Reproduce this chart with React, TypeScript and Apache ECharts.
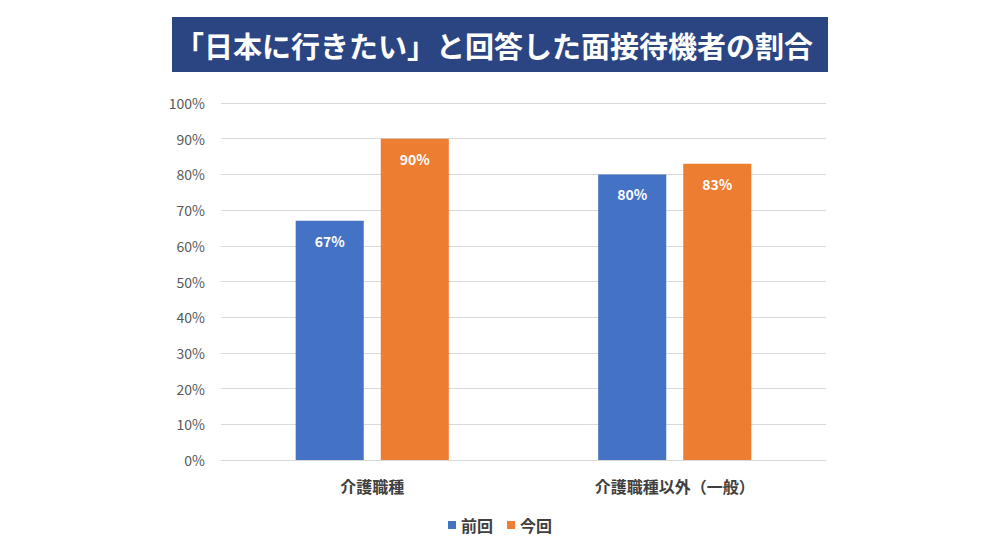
import React, { useEffect, useRef } from "react";
import * as echarts from "echarts";

const titleText = "「日本に行きたい」と回答した面接待機者の割合";
const categories = ["介護職種", "介護職種以外（一般）"];
const seriesNames = ["前回", "今回"];
const previousValues = [67, 80];
const currentValues = [90, 83];
const yTicks = [0, 10, 20, 30, 40, 50, 60, 70, 80, 90, 100];

const FONT = '"Noto Sans CJK JP", "Noto Sans", sans-serif';

export default function App() {
  const ref = useRef<HTMLDivElement>(null);
  useEffect(() => {
    if (!ref.current) return;
    const chart = echarts.init(ref.current, undefined, { renderer: "svg" });
    const labelStyle = {
      show: true,
      position: "insideTop",
      distance: 13,
      color: "#ffffff",
      fontWeight: "bold",
      fontSize: 14,
      fontFamily: FONT,
      formatter: (p: any) => p.value + "%",
    };
    chart.setOption({
      animation: false,
      backgroundColor: "#ffffff",
      textStyle: { fontFamily: FONT },
      graphic: [
        {
          type: "rect",
          shape: { x: 172, y: 17, width: 656, height: 55 },
          style: { fill: "#2B4582" },
        },
        {
          type: "text",
          x: 494,
          y: 45,
          style: {
            text: titleText,
            fill: "#ffffff",
            fontSize: 29,
            fontWeight: "bold",
            fontFamily: FONT,
            align: "center",
            verticalAlign: "middle",
          },
        },
      ],
      grid: { left: 221, right: 174, top: 103, bottom: 90 },
      legend: {
        data: seriesNames,
        bottom: 12,
        left: "center",
        itemWidth: 8,
        itemHeight: 8,
        itemGap: 14,
        icon: "rect",
        textStyle: { fontSize: 16, color: "#404040", fontWeight: "bold", fontFamily: FONT },
      },
      xAxis: {
        type: "category",
        data: categories,
        axisLine: { lineStyle: { color: "#d9d9d9" } },
        axisTick: { show: false },
        axisLabel: {
          color: "#404040",
          fontSize: 16,
          fontWeight: "bold",
          margin: 18,
          fontFamily: FONT,
        },
      },
      yAxis: {
        type: "value",
        min: yTicks[0],
        max: yTicks[yTicks.length - 1],
        interval: 10,
        axisLine: { show: false },
        axisTick: { show: false },
        splitLine: { lineStyle: { color: "#d9d9d9" } },
        axisLabel: {
          formatter: "{value}%",
          color: "#595959",
          fontSize: 14,
          margin: 16,
          fontFamily: FONT,
        },
      },
      series: [
        {
          name: seriesNames[0],
          type: "bar",
          data: previousValues,
          barWidth: "22.5%",
          barGap: "25%",
          itemStyle: { color: "#4472C4" },
          label: labelStyle,
        },
        {
          name: seriesNames[1],
          type: "bar",
          data: currentValues,
          barWidth: "22.5%",
          barGap: "25%",
          itemStyle: { color: "#ED7D31" },
          label: labelStyle,
        },
      ],
    });
    return () => chart.dispose();
  }, []);
  return (
    <div
      ref={ref}
      style={{ position: "fixed", left: 0, top: 0, width: 1000, height: 550 }}
    />
  );
}
